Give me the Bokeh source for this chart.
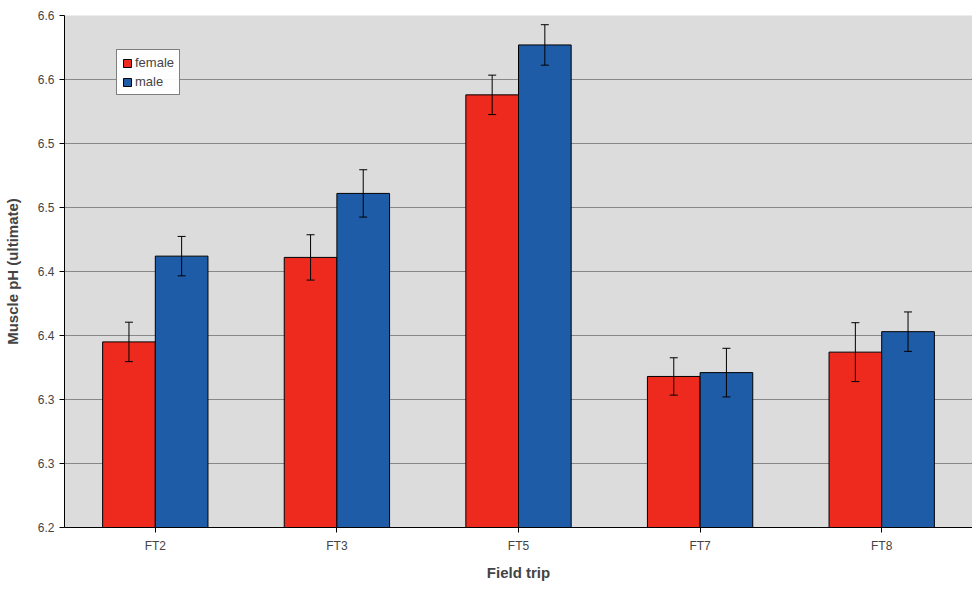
from bokeh.plotting import figure
from bokeh.models import ColumnDataSource, FactorRange, Whisker, TeeHead, Legend, LegendItem, FixedTicker
from bokeh.transform import dodge
from bokeh.embed import file_html
from bokeh.resources import INLINE

trips = ["FT2", "FT3", "FT5", "FT7", "FT8"]
female = [6.345, 6.411, 6.538, 6.318, 6.337]
male = [6.412, 6.461, 6.577, 6.321, 6.353]
female_err = [0.0154, 0.0177, 0.0154, 0.0146, 0.023]
male_err = [0.0154, 0.0185, 0.0158, 0.019, 0.0154]
yticks = [6.2, 6.25, 6.3, 6.35, 6.4, 6.45, 6.5, 6.55, 6.6]
ylabels = ["6.2", "6.3", "6.3", "6.4", "6.4", "6.5", "6.5", "6.6", "6.6"]

src = ColumnDataSource(dict(
    x=trips, f=female, m=male,
    fl=[v - e for v, e in zip(female, female_err)], fu=[v + e for v, e in zip(female, female_err)],
    ml=[v - e for v, e in zip(male, male_err)], mu=[v + e for v, e in zip(male, male_err)],
))

p = figure(x_range=FactorRange(*trips, range_padding=0), y_range=(6.2, 6.6), width=972, height=583,
           output_backend="svg", toolbar_location=None, min_border_right=0, min_border_top=15,
           min_border_bottom=0)
p.background_fill_color = "#dcdcdc"
p.border_fill_color = "white"
p.outline_line_color = None

w = 0.29
rf = p.vbar(x=dodge("x", -w / 2, range=p.x_range), top="f", bottom=6.2, width=w, source=src,
            fill_color="#ee2a1f", line_color="black", line_width=1)
rm = p.vbar(x=dodge("x", w / 2, range=p.x_range), top="m", bottom=6.2, width=w, source=src,
            fill_color="#1f5ca8", line_color="black", line_width=1)
for xo, lo, up in [(-w / 2, "fl", "fu"), (w / 2, "ml", "mu")]:
    p.add_layout(Whisker(base=dodge("x", xo, range=p.x_range), lower=lo, upper=up, source=src,
                         line_color="black", line_width=1, level="overlay",
                         lower_head=TeeHead(size=8, line_color="black"),
                         upper_head=TeeHead(size=8, line_color="black")))

p.yaxis.ticker = FixedTicker(ticks=yticks)
p.yaxis.major_label_overrides = {t: l for t, l in zip(yticks, ylabels)}
p.ygrid.ticker = FixedTicker(ticks=yticks)
p.ygrid.grid_line_color = "#888888"
p.xgrid.grid_line_color = None
p.yaxis.axis_label = "Muscle pH (ultimate)"
p.xaxis.axis_label = "Field trip"
for ax in (p.xaxis, p.yaxis):
    ax.axis_label_text_font = "Liberation Sans"
    ax.axis_label_text_font_style = "bold"
    ax.axis_label_text_font_size = "15px"
    ax.major_label_text_font = "Liberation Sans"
    ax.major_label_text_font_size = "12px"
    ax.minor_tick_line_color = None
    ax.major_tick_in = 0
    ax.major_tick_out = 5
p.yaxis.axis_label_standoff = 14
p.xaxis.axis_label_standoff = 8
p.xaxis.major_label_standoff = 6

leg = Legend(items=[LegendItem(label="female", renderers=[rf]), LegendItem(label="male", renderers=[rm])],
             location=(52, 432), background_fill_color="white", border_line_color="black",
             label_text_font="Liberation Sans", label_text_font_size="13px",
             glyph_width=10, glyph_height=10, label_height=14, spacing=4, padding=5, margin=0,
             label_standoff=3)
p.add_layout(leg)

open("out.html", "w").write(file_html(p, INLINE))
